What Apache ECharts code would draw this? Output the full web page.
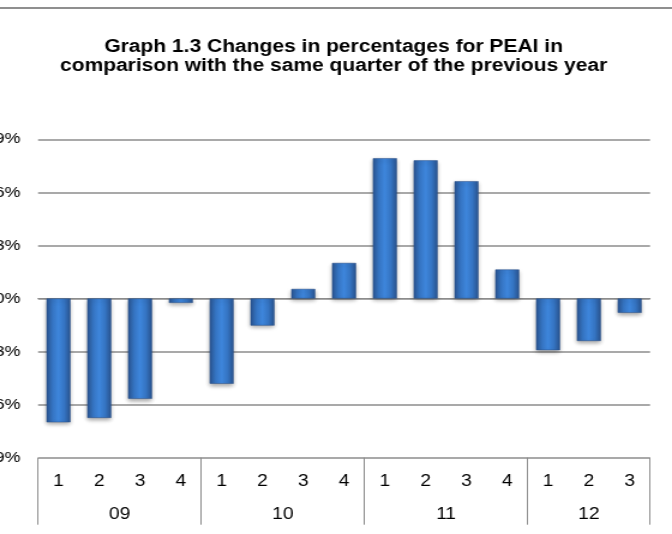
<!DOCTYPE html>
<html>
<head>
<meta charset="utf-8">
<script src="https://cdn.jsdelivr.net/npm/echarts@6/dist/echarts.min.js"></script>
<style>
  html, body {
    margin: 0;
    padding: 0;
    background: #fff;
    overflow: hidden;
  }
  /* the source picture is stretched sideways, so the chart is drawn narrower and widened */
  .bar-chart-container {
    width: 560px;
    height: 534px;
    transform: scaleX(1.2);
    transform-origin: 0 0;
  }
</style>
</head>
<body>
<div class="bar-chart-container" id="chartContainer"></div>
<script>
const titleText = "Graph 1.3 Changes in percentages for PEAI in\ncomparison with the same quarter of the previous year"
const yearLabels = ["09", "10", "11", "12"]
const quartersPerYear = [4, 4, 4, 3]
const quarterLabels = ["1", "2", "3", "4", "1", "2", "3", "4", "1", "2", "3", "4", "1", "2", "3"]
// % change vs the same quarter of the previous year
const peaiValues = [-7.0, -6.75, -5.67, -0.25, -4.82, -1.53, 0.54, 2.01, 7.93, 7.81, 6.63, 1.64, -2.92, -2.4, -0.81]
const yTicks = [-9, -6, -3, 0, 3, 6, 9]

// half-step slots for the year row: group borders and group centres
const yearSlots = []
const yearBorders = [0]
const yearCentres = {}
let pos = 0
yearLabels.forEach((y, i) => {
  yearCentres[pos + quartersPerYear[i]] = y
  pos += quartersPerYear[i] * 2
  yearBorders.push(pos)
})
for (let i = 0; i <= pos; i++) {
  yearSlots.push(yearCentres[i] || "")
}

const chartContainer = document.getElementById("chartContainer")
let myChart = null
const initChart = () => {
  myChart = echarts.init(chartContainer)
  const option = {
    animation: false,
    title: {
      text: titleText,
      left: 273,
      top: 33,
      textAlign: "center",
      textStyle: {
        fontFamily: "Liberation Sans, Arial",
        fontSize: 17.5,
        fontWeight: "bold",
        lineHeight: 19,
        color: "#000",
      },
    },
    graphic: [
      {
        type: "line",
        shape: { x1: 0, y1: 8, x2: 560, y2: 8 },
        style: { stroke: "#8f8f8f", lineWidth: 2 },
      },
    ],
    grid: {
      left: 31.7,
      right: 18.3,
      top: 139.3,
      bottom: 76.3,
      containLabel: false,
      outerBoundsMode: "none",
    },
    xAxis: [
      {
        type: "category",
        data: quarterLabels,
        position: "bottom",
        axisLine: { show: true, lineStyle: { color: "#8c8c8c", width: 1 } },
        axisTick: { show: false },
        axisLabel: {
          margin: 16,
          fontFamily: "Liberation Sans, Arial",
          fontSize: 16,
          color: "#000",
        },
      },
      {
        type: "category",
        data: yearSlots,
        position: "bottom",
        boundaryGap: false,
        axisLine: { show: false },
        axisTick: {
          show: true,
          length: 67,
          interval: (i) => yearBorders.includes(i),
          lineStyle: { color: "#8c8c8c", width: 1 },
        },
        axisLabel: {
          margin: 49,
          interval: (i) => yearSlots[i] !== "",
          fontFamily: "Liberation Sans, Arial",
          fontSize: 16,
          color: "#000",
        },
        splitLine: { show: false },
      },
    ],
    yAxis: {
      type: "value",
      min: yTicks[0],
      max: yTicks[yTicks.length - 1],
      interval: 3,
      axisLine: { show: false },
      axisTick: { show: false },
      splitLine: { lineStyle: { color: "#8c8c8c", width: 1.5 } },
      axisLabel: {
        margin: 14.5,
        formatter: "{value}%",
        fontFamily: "Liberation Sans, Arial",
        fontSize: 15,
        color: "#000",
      },
    },
    series: [
      {
        name: "PEAI",
        type: "bar",
        xAxisIndex: 0,
        barWidth: 20,
        data: peaiValues,
        itemStyle: {
          color: new echarts.graphic.LinearGradient(0, 0, 1, 0, [
            { offset: 0, color: "#2a5592" },
            { offset: 0.25, color: "#3574c2" },
            { offset: 0.5, color: "#3e86dc" },
            { offset: 0.75, color: "#3574c2" },
            { offset: 1, color: "#2a5592" },
          ]),
          borderColor: "#2a5188",
          borderWidth: 0.5,
          shadowColor: "rgba(0, 0, 0, 0.35)",
          shadowBlur: 4,
          shadowOffsetY: 2,
        },
      },
    ],
  }
  myChart.setOption(option)
}
initChart()
</script>
</body>
</html>
